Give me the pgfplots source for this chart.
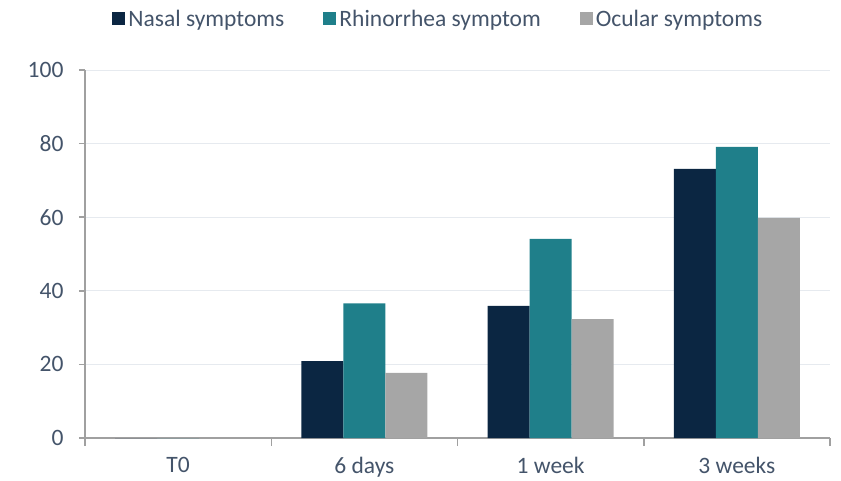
\documentclass[border=0pt]{standalone}
\usepackage{pgfplots}
\pgfplotsset{compat=1.18}
\usepackage{fontspec}
\setmainfont{Carlito}
\usetikzlibrary{calc}
\definecolor{cnasal}{HTML}{0B2642}
\definecolor{crhino}{HTML}{1F7F8A}
\definecolor{cocular}{HTML}{A6A6A6}
\definecolor{ctext}{HTML}{44546A}
\definecolor{caxis}{HTML}{A0A0A0}
\definecolor{cgrid}{HTML}{E6EAEF}
\pgfplotstableread{
x nasal rhino ocular
0 0 0 0
1 20.9 36.6 17.7
2 35.9 54.1 32.3
3 73.1 79.1 59.8
}\datatable
\begin{document}
\begin{tikzpicture}
\begin{axis}[
  name=ax,
  scale only axis,
  width=745pt, height=368pt,
  ybar=0pt,
  bar width=0.2255,
  xmin=-0.5, xmax=3.5,
  ymin=0, ymax=100,
  xtick={0,1,2,3},
  xticklabels={T0,6 days,1 week,3 weeks},
  minor xtick={-0.5,0.5,1.5,2.5,3.5},
  ytick={0,20,40,60,80,100},
  axis x line*=bottom,
  axis y line*=left,
  axis line style={caxis, line width=1.5pt},
  tick align=outside,
  major x tick style={draw=none},
  minor x tick style={caxis, line width=1.5pt},
  minor tick length=8pt,
  major tick length=6pt,
  y tick style={caxis, line width=1.5pt},
  ymajorgrids,
  y grid style={cgrid, line width=1pt},
  every tick label/.append style={font=\fontsize{23.5}{27}\selectfont, text=ctext},
  xticklabel style={yshift=-10pt},
  yticklabel style={xshift=-12pt},
  /pgf/number format/assume math mode=true,
  legend style={
    at={(0.475,1)}, anchor=south, yshift=38pt,
    draw=none, fill=none,
    font=\fontsize{23.5}{27}\selectfont, text=ctext,
    legend columns=3,
    /tikz/every odd column/.append style={column sep=0pt},
    /tikz/every even column/.append style={column sep=36pt},
    nodes={inner xsep=3pt},
  },
  legend image code/.code={\fill[#1] (0pt,-6.5pt) rectangle (13pt,6.5pt);},
]
\addplot[fill=cnasal, draw=none] table[x=x, y=nasal] {\datatable};
\addplot[fill=crhino, draw=none] table[x=x, y=rhino] {\datatable};
\addplot[fill=cocular, draw=none] table[x=x, y=ocular] {\datatable};
\legend{Nasal symptoms, Rhinorrhea symptom, Ocular symptoms}
\end{axis}
\pgfresetboundingbox
\path[use as bounding box] ($(ax.south west)+(-85pt,-42pt)$) rectangle ($(ax.north east)+(11pt,70pt)$);
\end{tikzpicture}
\end{document}
